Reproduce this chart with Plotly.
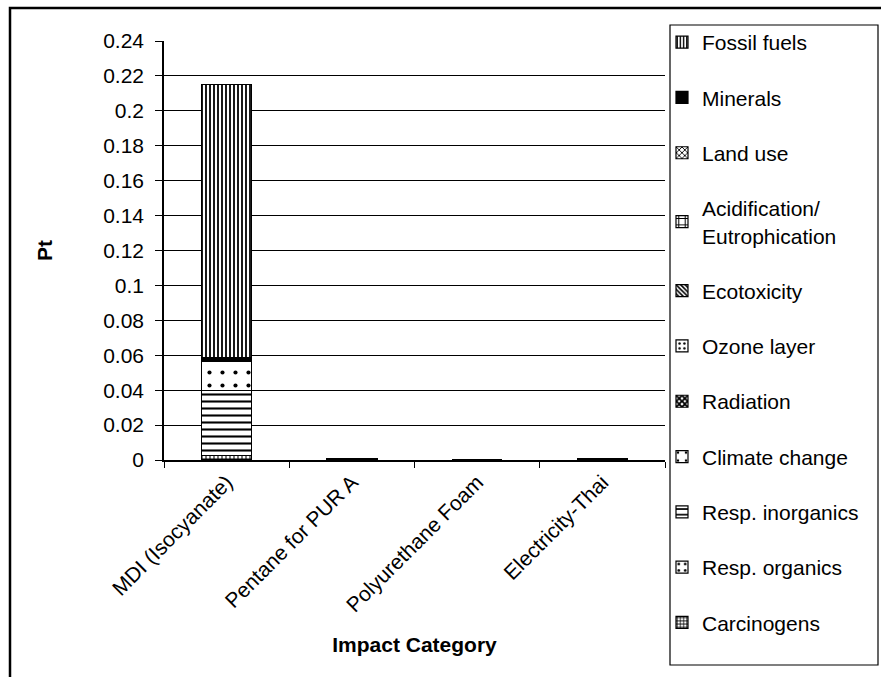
import plotly.graph_objects as go

# Impact assessment (single score, Pt) per process
categories = ["MDI (Isocyanate)", "Pentane for PUR A", "Polyurethane Foam", "Electricity-Thai"]

carcinogens = [0.0025, 0.0, 0.0, 0.0]
resp_organics = [0.0003, 0.0, 0.0, 0.0]
resp_inorganics = [0.0372, 0.0001, 0.0, 0.0003]
climate_change = [0.0166, 0.0001, 0.0, 0.0002]
radiation = [0.0002, 0.0, 0.0, 0.0]
ozone_layer = [0.0001, 0.0, 0.0, 0.0]
ecotoxicity = [0.0004, 0.0, 0.0, 0.0]
acidification = [0.0008, 0.0, 0.0, 0.0]
land_use = [0.0005, 0.0, 0.0, 0.0]
minerals = [0.0002, 0.0, 0.0, 0.0]
fossil_fuels = [0.1562, 0.0006, 0.0, 0.0003]

y_ticks = [0, 0.02, 0.04, 0.06, 0.08, 0.1, 0.12, 0.14, 0.16, 0.18, 0.2, 0.22, 0.24]
y_tick_text = ["0", "0.02", "0.04", "0.06", "0.08", "0.1", "0.12", "0.14", "0.16", "0.18", "0.2", "0.22", "0.24"]

# stacking order bottom -> top, with a black & white hatch per category
series = [
    ("Carcinogens", carcinogens, dict(shape="+", size=4, solidity=0.45)),
    ("Resp. organics", resp_organics, dict(shape=".", size=8, solidity=0.15)),
    ("Resp. inorganics", resp_inorganics, dict(shape="-", size=7, solidity=0.3)),
    ("Climate change", climate_change, dict(shape=".", size=13, solidity=0.08)),
    ("Radiation", radiation, dict(shape="x", size=5, solidity=0.7)),
    ("Ozone layer", ozone_layer, dict(shape=".", size=6, solidity=0.2)),
    ("Ecotoxicity", ecotoxicity, dict(shape="\\", size=4, solidity=0.5)),
    ("Acidification/<br>Eutrophication", acidification, dict(shape="+", size=8, solidity=0.3)),
    ("Land use", land_use, dict(shape="x", size=5, solidity=0.4)),
    ("Minerals", minerals, None),
    ("Fossil fuels", fossil_fuels, dict(shape="|", size=4, solidity=0.45)),
]

FONT = "Arial, Liberation Sans, sans-serif"

fig = go.Figure()
n = len(series)
for i, (name, vals, pat) in enumerate(series):
    marker = dict(color="black" if pat is None else "white",
                  line=dict(color="black", width=1.2))
    if pat is not None:
        marker["pattern"] = dict(fgcolor="black", bgcolor="white", fillmode="replace", **pat)
    # legend lists the top of the stack first
    fig.add_trace(go.Bar(x=categories, y=vals, name=name, legendgroup=f"g{i}",
                         legendrank=100 + (n - i), marker=marker))

W, H = 881, 677
L, R, T, B = 164, 665, 41, 460
pw, ph = R - L, B - T


def px(x):
    return (x - L) / pw


def py(y):
    return (B - y) / ph


fig.update_layout(
    width=W, height=H,
    margin=dict(l=L, r=W - R, t=T, b=H - B),
    barmode="stack", bargap=0.6,
    paper_bgcolor="white", plot_bgcolor="white",
    font=dict(family=FONT, size=22, color="black"),
    showlegend=True,
    legend=dict(x=0.994, y=py(22), xanchor="left", yanchor="top",
                traceorder="grouped", tracegroupgap=25, maxheight=660,
                font=dict(family=FONT, size=21, color="black"),
                bgcolor="rgba(0,0,0,0)", borderwidth=0),
    xaxis=dict(showline=True, linecolor="black", linewidth=1.5,
               ticks="outside", tickson="boundaries", ticklen=6, tickcolor="black",
               tickangle=-45, tickfont=dict(size=21),
               title=dict(text="<b>Impact Category</b>", font=dict(size=21), standoff=22),
               automargin=False),
    yaxis=dict(range=[0, 0.24], tickvals=y_ticks, ticktext=y_tick_text,
               showline=True, linecolor="black", linewidth=1.5,
               ticks="outside", ticklen=7, tickcolor="black", ticklabelstandoff=7,
               showgrid=True, gridcolor="black", gridwidth=1,
               tickfont=dict(size=21),
               title=dict(text="<b>Pt</b>", font=dict(size=21), standoff=45),
               automargin=False, zeroline=False),
    shapes=[
        # legend box
        dict(type="rect", xref="paper", yref="paper",
             x0=px(670), x1=px(878), y0=py(665), y1=py(25),
             line=dict(color="black", width=1.2), fillcolor="rgba(0,0,0,0)"),
        # chart frame
        dict(type="rect", xref="paper", yref="paper",
             x0=px(10), x1=px(W + 20), y0=py(H + 20), y1=py(8),
             line=dict(color="black", width=2.5), fillcolor="rgba(0,0,0,0)"),
    ],
)

fig.write_html("out.html")
